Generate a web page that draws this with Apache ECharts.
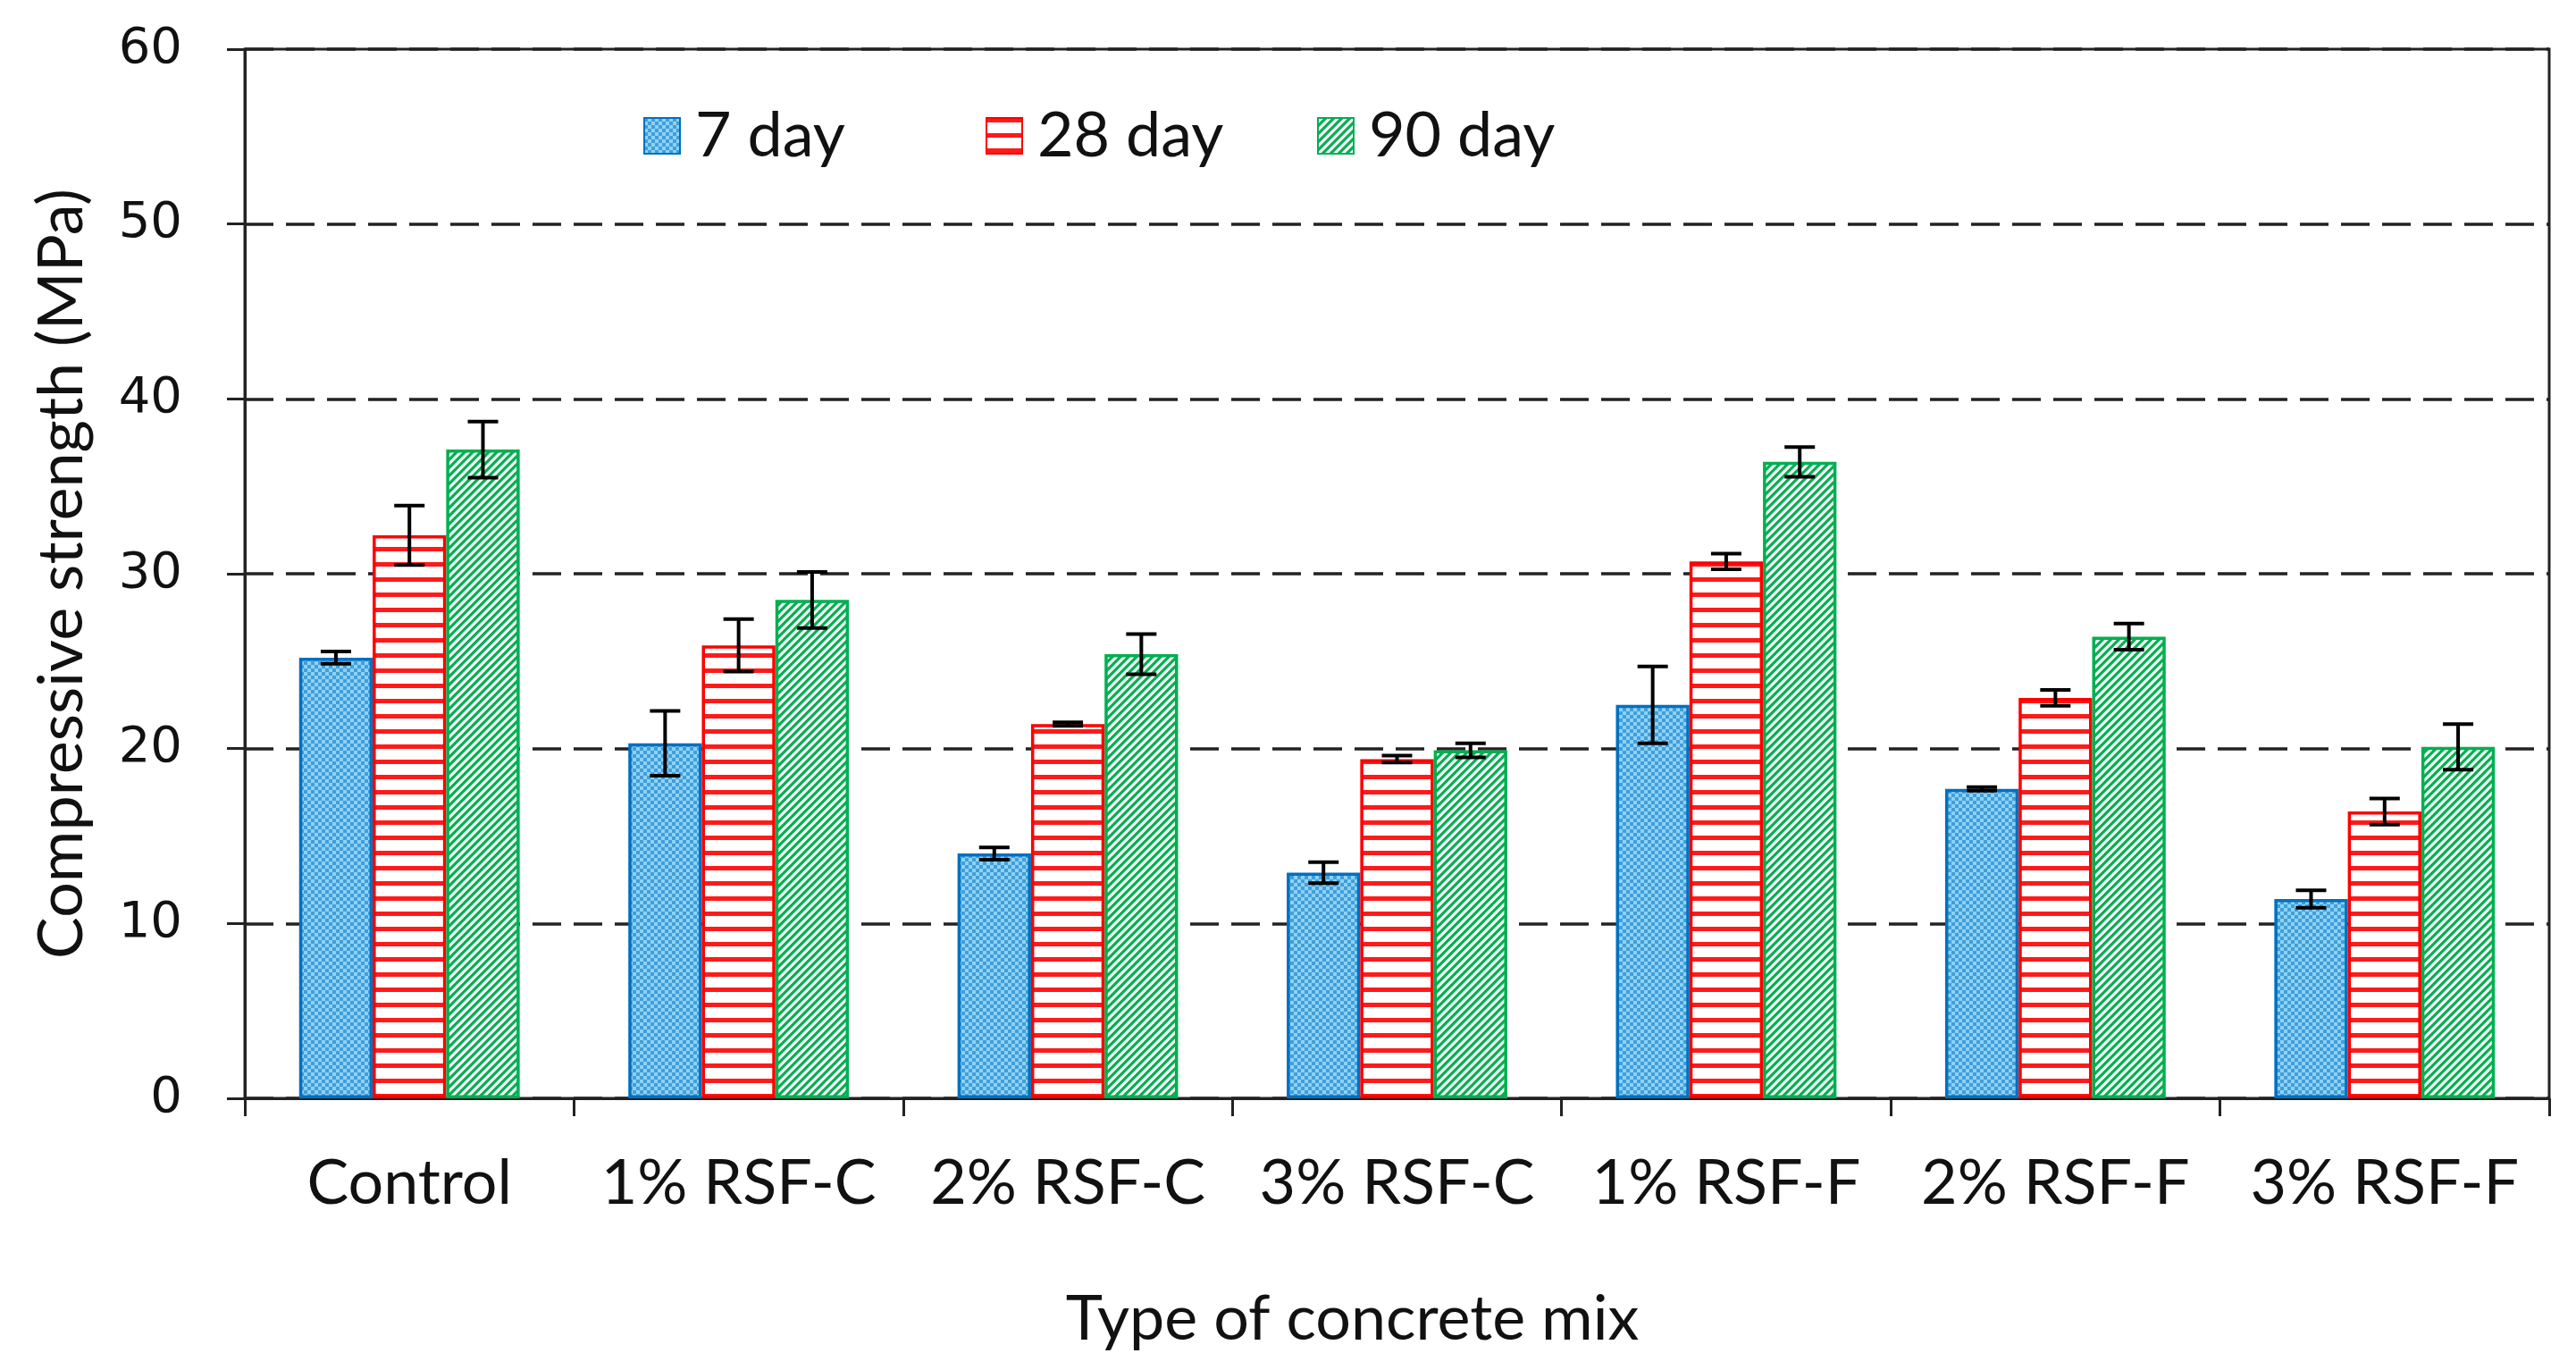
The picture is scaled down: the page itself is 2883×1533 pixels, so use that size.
<!DOCTYPE html>
<html>
<head>
<meta charset="utf-8">
<script src="https://cdn.jsdelivr.net/npm/echarts@6/dist/echarts.min.js"></script>
<style>
html,body{margin:0;padding:0;background:#fff;}
#chart{width:2883px;height:1533px;}
</style>
</head>
<body>
<div id="chart"></div>
<script>
const categories = ['Control', '1% RSF-C', '2% RSF-C', '3% RSF-C', '1% RSF-F', '2% RSF-F', '3% RSF-F'];
const seriesNames = ['7 day', '28 day', '90 day'];
const day7 = [25.2, 20.3, 14.0, 12.9, 22.5, 17.7, 11.4];
const day28 = [32.2, 25.9, 21.4, 19.4, 30.7, 22.9, 16.4];
const day90 = [37.1, 28.5, 25.4, 19.9, 36.4, 26.4, 20.1];
const err7 = [0.35, 1.85, 0.35, 0.6, 2.2, 0.1, 0.5];
const err28 = [1.7, 1.5, 0.1, 0.2, 0.45, 0.45, 0.75];
const err90 = [1.6, 1.6, 1.15, 0.4, 0.85, 0.75, 1.3];
const yTicks = [0, 10, 20, 30, 40, 50, 60];

const FONT = 'Lato';
const TXT = '#111';

function makeCanvas(w, h, draw) {
  const c = document.createElement('canvas');
  c.width = w; c.height = h;
  const ctx = c.getContext('2d');
  draw(ctx, w, h);
  return c;
}
const bluePat = makeCanvas(8, 8, (ctx, w, h) => {
  ctx.fillStyle = '#90d1f3'; ctx.fillRect(0, 0, w, h);
  ctx.fillStyle = '#3f9fdc'; ctx.fillRect(0, 0, 4, 4); ctx.fillRect(4, 4, 4, 4);
});
const redPat = makeCanvas(4, 17, (ctx, w, h) => {
  ctx.fillStyle = '#ffffff'; ctx.fillRect(0, 0, w, h);
  ctx.fillStyle = '#ff1a1a'; ctx.fillRect(0, 0, w, 5);
});
const greenPat = makeCanvas(9, 9, (ctx, w, h) => {
  ctx.fillStyle = '#ffffff'; ctx.fillRect(0, 0, w, h);
  ctx.strokeStyle = '#00b050'; ctx.lineWidth = 3.2;
  ctx.beginPath();
  ctx.moveTo(-2, 11); ctx.lineTo(11, -2);
  ctx.moveTo(-7, 7); ctx.lineTo(7, -7);
  ctx.moveTo(2, 16); ctx.lineTo(16, 2);
  ctx.stroke();
});

const fills = [
  { image: bluePat, repeat: 'repeat' },
  { image: redPat, repeat: 'repeat' },
  { image: greenPat, repeat: 'repeat' }
];
const borders = ['#0070c0', '#ff0000', '#00b050'];
const values = [day7, day28, day90];
const errs = [err7, err28, err90];

const GAP = 0.33;
const errData = [];
values.forEach((arr, si) => arr.forEach((v, ci) => errData.push([ci, si, v, errs[si][ci]])));

const chart = echarts.init(document.getElementById('chart'), null, { renderer: 'canvas' });

const barSeries = seriesNames.map((name, si) => ({
  name: name,
  type: 'bar',
  data: values[si],
  barGap: '0%',
  barCategoryGap: (GAP * 100) + '%',
  itemStyle: { color: fills[si], borderColor: borders[si], borderWidth: 3.5 },
  emphasis: { disabled: true },
  z: 3
}));

const legendLefts = [715, 1098, 1469];
const legends = seriesNames.map((name, i) => ({
  data: [name],
  left: legendLefts[i],
  top: 112,
  itemWidth: 40,
  itemHeight: 40,
  icon: 'rect',
  selectedMode: false,
  textStyle: { fontFamily: FONT, fontSize: 70, color: TXT, padding: [0, 0, 0, 12] }
}));

chart.setOption({
  animation: false,
  backgroundColor: '#fff',
  legend: legends,
  grid: {
    left: 274, right: 30, top: 55, bottom: 304,
    show: true, borderColor: '#222', borderWidth: 3, backgroundColor: 'transparent'
  },
  xAxis: {
    type: 'category',
    data: categories,
    name: 'Type of concrete mix',
    nameLocation: 'middle',
    nameGap: 212,
    nameTextStyle: { fontFamily: FONT, fontSize: 70, color: TXT, padding: [0, 100, 0, 0] },
    axisLine: { lineStyle: { color: '#222', width: 3 } },
    axisTick: { show: true, length: 20, lineStyle: { color: '#222', width: 3 } },
    axisLabel: { interval: 0, fontFamily: FONT, fontSize: 70, color: TXT, margin: 60 },
    splitLine: { show: false }
  },
  yAxis: {
    type: 'value',
    min: yTicks[0],
    max: yTicks[yTicks.length - 1],
    interval: yTicks[1] - yTicks[0],
    name: 'Compressive strength (MPa)',
    nameLocation: 'middle',
    nameGap: 170,
    nameTextStyle: { fontFamily: FONT, fontSize: 70, color: TXT },
    axisLine: { show: true, lineStyle: { color: '#222', width: 3 } },
    axisTick: { show: true, length: 20, lineStyle: { color: '#222', width: 3 } },
    axisLabel: { fontFamily: 'DejaVu Sans', fontSize: 56, color: TXT, margin: 70 },
    splitLine: { show: true, lineStyle: { color: '#222', width: 3.5, type: [32, 14] } }
  },
  series: barSeries.concat([{
    type: 'custom',
    name: 'error',
    data: errData,
    encode: { x: 0, y: 2 },
    z: 5,
    silent: true,
    renderItem: function (params, api) {
      const ci = api.value(0), si = api.value(1), v = api.value(2), e = api.value(3);
      const band = api.size([1, 0])[0];
      const bw = band * (1 - GAP) / 3;
      const cx = api.coord([ci, 0])[0] + (si - 1) * bw;
      const yt = api.coord([ci, v + e])[1];
      const yb = api.coord([ci, v - e])[1];
      const hw = 17;
      const st = { stroke: '#000', lineWidth: 4 };
      return {
        type: 'group',
        children: [
          { type: 'line', shape: { x1: cx, y1: yt, x2: cx, y2: yb }, style: st },
          { type: 'line', shape: { x1: cx - hw, y1: yt, x2: cx + hw, y2: yt }, style: st },
          { type: 'line', shape: { x1: cx - hw, y1: yb, x2: cx + hw, y2: yb }, style: st }
        ]
      };
    }
  }])
});
</script>
</body>
</html>
